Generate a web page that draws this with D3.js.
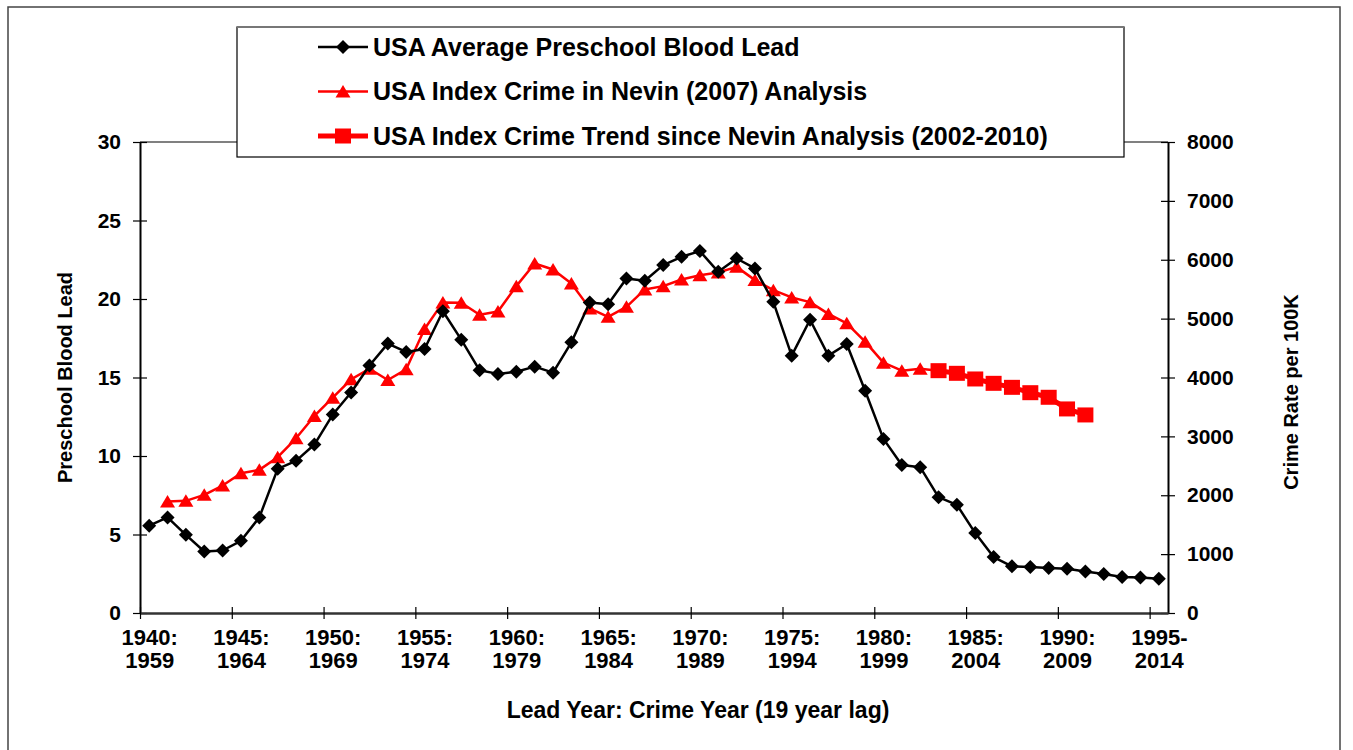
<!DOCTYPE html>
<html lang="en">
<head>
<meta charset="utf-8">
<title>Lead and crime</title>
<script src="https://d3js.org/d3.v7.min.js"></script>
<style>
  body { margin: 0; background: #fff; }
  text { font-family: "Liberation Sans", Arial, sans-serif; font-weight: bold; fill: #000; }
</style>
</head>
<body>
<script>
// categories: lead year (crime year = lead year + 19)
var firstYear = 1940;
var years = d3.range(1940, 1996);

// USA average preschool blood lead, 1940 - 1995
var lead = [5.56, 6.09, 4.98, 3.92, 3.98, 4.6, 6.09, 9.18, 9.69, 10.73,
            12.64, 14.04, 15.76, 17.16, 16.63, 16.82, 19.22, 17.41, 15.46, 15.23,
            15.37, 15.69, 15.31, 17.24, 19.78, 19.66, 21.31, 21.16, 22.16, 22.69,
            23.05, 21.73, 22.58, 21.95, 19.82, 16.39, 18.68, 16.39, 17.13, 14.16,
            11.09, 9.43, 9.29, 7.38, 6.89, 5.09, 3.56, 2.97, 2.93, 2.86,
            2.82, 2.65, 2.48, 2.29, 2.26, 2.18];

// index crime in Nevin (2007), lead years 1941 - 1983
var nevinStart = 1941;
var nevinCrime = [1893, 1905, 2007, 2165, 2375, 2431, 2646, 2968, 3347,
                  3657, 3969, 4149, 3957, 4139, 4823, 5276, 5269, 5066, 5120,
                  5552, 5937, 5835, 5598, 5174, 5031, 5201, 5496, 5552, 5665,
                  5738, 5784, 5879, 5654, 5484, 5360, 5280, 5080, 4920, 4609,
                  4252, 4116, 4150, 4116];

// trend since Nevin analysis (crime years 2002-2010), lead years 1983 - 1991
var trendStart = 1983;
var trendCrime = [4116, 4071, 3975, 3901, 3833, 3742, 3664, 3466, 3364];

var tickYears = [1940, 1945, 1950, 1955, 1960, 1965, 1970, 1975, 1980, 1985, 1990, 1995];
var tickTop = ["1940:", "1945:", "1950:", "1955:", "1960:", "1965:", "1970:", "1975:", "1980:", "1985:", "1990:", "1995-"];
var tickBottom = ["1959", "1964", "1969", "1974", "1979", "1984", "1989", "1994", "1999", "2004", "2009", "2014"];

var leadTicks = [0, 5, 10, 15, 20, 25, 30];
var crimeTicks = [0, 1000, 2000, 3000, 4000, 5000, 6000, 7000, 8000];

var legendItems = [
  {name: "USA Average Preschool Blood Lead", color: "#000", width: 2.5, marker: "diamond"},
  {name: "USA Index Crime in Nevin (2007) Analysis", color: "#ff0000", width: 2.5, marker: "triangle"},
  {name: "USA Index Crime Trend since Nevin Analysis (2002-2010)", color: "#ff0000", width: 5, marker: "square"}
];

var w = 1353, h = 750;
var pLeft = 140, pRight = 1168, pTop = 142, pBottom = 613;

var svg = d3.select("body").append("svg")
  .attr("width", w).attr("height", h);

svg.append("rect").attr("width", w).attr("height", h).attr("fill", "#fff");

// outer frame
svg.append("rect")
  .attr("x", 8).attr("y", 7).attr("width", 1332).attr("height", 760)
  .attr("fill", "none").attr("stroke", "#444").attr("stroke-width", 1.5);

var x = d3.scaleLinear().domain([firstYear, 1996]).range([pLeft, pRight]);
var yLead = d3.scaleLinear().domain([0, 30]).range([pBottom, pTop]);
var yCrime = d3.scaleLinear().domain([0, 8000]).range([pBottom, pTop]);
var half = (x(1941) - x(1940)) / 2;

// plot area top border
svg.append("line")
  .attr("x1", pLeft).attr("x2", pRight).attr("y1", pTop).attr("y2", pTop)
  .attr("stroke", "#808080").attr("stroke-width", 2);

// left axis
var gl = svg.append("g").attr("transform", `translate(${pLeft},0)`)
  .call(d3.axisLeft(yLead).tickValues(leadTicks).tickSize(7).tickPadding(12).tickSizeOuter(0));
gl.selectAll(".tick line").attr("x1", 7).attr("stroke-width", 1.2);
gl.select(".domain").attr("stroke-width", 2);
gl.selectAll("text").style("font-size", "21px");

// right axis
var gr = svg.append("g").attr("transform", `translate(${pRight},0)`)
  .call(d3.axisRight(yCrime).tickValues(crimeTicks).tickFormat(d3.format("d")).tickSize(7).tickPadding(12).tickSizeOuter(0));
gr.selectAll(".tick line").attr("x1", -7).attr("stroke-width", 1.2);
gr.select(".domain").attr("stroke-width", 2);
gr.selectAll("text").style("font-size", "21px");

// bottom axis: ticks at category edges, labels centred in category
var gb = svg.append("g").attr("transform", `translate(0,${pBottom})`)
  .call(d3.axisBottom(x).tickValues(tickYears).tickSize(6).tickSizeOuter(0));
gb.selectAll(".tick line").attr("y1", -6).attr("stroke-width", 1.2);
gb.select(".domain").attr("stroke", "#333").attr("stroke-width", 2.5);
gb.selectAll("text").remove();
gb.selectAll(".tick").append("text")
  .attr("x", half).attr("text-anchor", "middle")
  .style("font-size", "22px")
  .each(function(d, i) {
    var t = d3.select(this);
    t.append("tspan").attr("x", half).attr("y", 32).text(tickTop[i]);
    t.append("tspan").attr("x", half).attr("y", 55).text(tickBottom[i]);
  });

// axis titles
svg.append("text")
  .attr("transform", `translate(72,${(pTop + pBottom) / 2}) rotate(-90)`)
  .attr("text-anchor", "middle").style("font-size", "20px")
  .text("Preschool Blood Lead");
svg.append("text")
  .attr("transform", `translate(1298,392) rotate(-90)`)
  .attr("text-anchor", "middle").style("font-size", "20px")
  .text("Crime Rate per 100K");
svg.append("text")
  .attr("x", 698).attr("y", 718)
  .attr("text-anchor", "middle").style("font-size", "23px")
  .text("Lead Year: Crime Year (19 year lag)");

// markers
function drawMarker(g, type, color) {
  if (type == "diamond") {
    g.append("path").attr("d", "M0,-7L7,0L0,7L-7,0Z").attr("fill", color);
  } else if (type == "triangle") {
    g.append("path").attr("d", "M0,-6.5L7.5,6L-7.5,6Z").attr("fill", color);
  } else {
    g.append("rect").attr("x", -8).attr("y", -7.5).attr("width", 16).attr("height", 15).attr("fill", color);
  }
}

function series(values, start, yScale, item) {
  var pts = values.map((v, i) => [x(start + i) + half, yScale(v)]);
  svg.append("path")
    .attr("d", d3.line()(pts))
    .attr("fill", "none").attr("stroke", item.color)
    .attr("stroke-width", item.width).attr("stroke-linejoin", "round");
  pts.forEach(function(p) {
    drawMarker(svg.append("g").attr("transform", `translate(${p[0]},${p[1]})`), item.marker, item.color);
  });
}

series(nevinCrime, nevinStart, yCrime, legendItems[1]);
series(trendCrime, trendStart, yCrime, legendItems[2]);
series(lead, firstYear, yLead, legendItems[0]);

// legend
var lg = svg.append("g");
lg.append("rect")
  .attr("x", 237).attr("y", 27).attr("width", 887).attr("height", 130)
  .attr("fill", "#fff").attr("stroke", "#000").attr("stroke-width", 1.2);
lg.append("line").attr("x1", 237).attr("x2", 1124).attr("y1", 27).attr("y2", 27)
  .attr("stroke", "#777").attr("stroke-width", 2);

legendItems.forEach(function(d, i) {
  var cy = 47 + i * 44.5;
  lg.append("line").attr("x1", 318).attr("x2", 368).attr("y1", cy).attr("y2", cy)
    .attr("stroke", d.color).attr("stroke-width", d.width);
  drawMarker(lg.append("g").attr("transform", `translate(343,${cy})`), d.marker, d.color);
  lg.append("text").attr("x", 373).attr("y", cy + 8.5)
    .style("font-size", "25px").text(d.name);
});
</script>
</body>
</html>
